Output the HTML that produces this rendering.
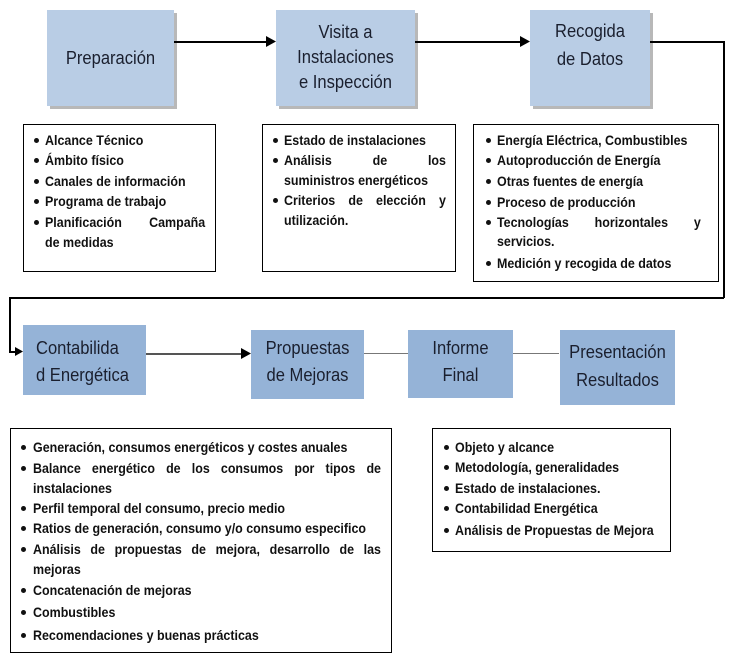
<!DOCTYPE html>
<html><head><meta charset="utf-8"><style>
body{margin:0;width:731px;height:661px;background:#fff;position:relative;overflow:hidden;font-family:"Liberation Sans",sans-serif;color:#111}
.b{position:absolute;box-sizing:border-box}
.top{background:#b9cde5;box-shadow:3px 3px 0 #b8b8b8}
.low{background:#95b3d7}
.t{position:absolute;left:-20px;right:-20px;text-align:center;font-size:18px;line-height:24px;color:#1a1f2e;transform:scaleX(0.92)}
.tb{position:absolute;border:1px solid #000;background:#fff;box-sizing:border-box}
.l{position:absolute;font-size:14px;font-weight:bold;line-height:18px;white-space:nowrap;transform:scaleX(0.89);transform-origin:0 0}
.j{text-align:justify;text-align-last:justify;white-space:normal}
.d{position:absolute;width:5px;height:5px;border-radius:50%;background:#111}
.ln{position:absolute;background:#000}
</style></head><body>
<div class="b top" style="left:47px;top:10px;width:127px;height:96px"><div class="t" style="top:36px">Preparación</div></div>
<div class="b top" style="left:276px;top:10px;width:139px;height:96px"><div class="t" style="top:10px;line-height:25px">Visita a<br>Instalaciones<br>e Inspección</div></div>
<div class="b top" style="left:530px;top:10px;width:120px;height:96px"><div class="t" style="top:7px;line-height:28px">Recogida<br>de Datos</div></div>
<div class="ln" style="left:174px;top:41px;width:94px;height:1.5px"></div>
<svg class="b" style="left:266px;top:36px" width="11" height="11"><polygon points="0,0 10,5.5 0,11" fill="#000"/></svg>
<div class="ln" style="left:415px;top:41px;width:107px;height:1.5px"></div>
<svg class="b" style="left:520px;top:36px" width="11" height="11"><polygon points="0,0 10,5.5 0,11" fill="#000"/></svg>
<div class="ln" style="left:650px;top:41px;width:74px;height:1.5px"></div>
<div class="ln" style="left:723px;top:41px;width:1.5px;height:257px"></div>
<div class="ln" style="left:9px;top:297px;width:715px;height:1.5px"></div>
<div class="ln" style="left:9px;top:297px;width:1.5px;height:55px"></div>
<div class="ln" style="left:9px;top:351px;width:8px;height:1.5px"></div>
<svg class="b" style="left:15px;top:347px" width="9" height="9"><polygon points="0,0 8,4.5 0,9" fill="#000"/></svg>

<div class="tb" style="left:23px;top:124px;width:193px;height:148px"></div>
<div class="d" style="left:34px;top:138px"></div><div class="l" style="left:45px;top:131px">Alcance Técnico</div>
<div class="d" style="left:34px;top:158px"></div><div class="l" style="left:45px;top:151px">Ámbito físico</div>
<div class="d" style="left:34px;top:179px"></div><div class="l" style="left:45px;top:172px">Canales de información</div>
<div class="d" style="left:34px;top:199px"></div><div class="l" style="left:45px;top:192px">Programa de trabajo</div>
<div class="d" style="left:34px;top:220px"></div><div class="l j" style="left:45px;top:213px;width:180px">Planificación Campaña</div>
<div class="l" style="left:45px;top:233px">de medidas</div>

<div class="tb" style="left:262px;top:124px;width:194px;height:148px"></div>
<div class="d" style="left:273px;top:138px"></div><div class="l" style="left:284px;top:131px">Estado de instalaciones</div>
<div class="d" style="left:273px;top:158px"></div><div class="l j" style="left:284px;top:151px;width:182px">Análisis de los</div>
<div class="l" style="left:284px;top:171px">suministros energéticos</div>
<div class="d" style="left:273px;top:198px"></div><div class="l j" style="left:284px;top:191px;width:182px">Criterios de elección y</div>
<div class="l" style="left:284px;top:211px">utilización.</div>

<div class="tb" style="left:473px;top:124px;width:246px;height:158px"></div>
<div class="d" style="left:486px;top:138px"></div><div class="l" style="left:497px;top:131px">Energía Eléctrica, Combustibles</div>
<div class="d" style="left:486px;top:158px"></div><div class="l" style="left:497px;top:151px">Autoproducción de Energía</div>
<div class="d" style="left:486px;top:179px"></div><div class="l" style="left:497px;top:172px">Otras fuentes de energía</div>
<div class="d" style="left:486px;top:200px"></div><div class="l" style="left:497px;top:193px">Proceso de producción</div>
<div class="d" style="left:486px;top:220px"></div><div class="l j" style="left:497px;top:213px;width:229px">Tecnologías horizontales y</div>
<div class="l" style="left:497px;top:232px">servicios.</div>
<div class="d" style="left:486px;top:261px"></div><div class="l" style="left:497px;top:254px">Medición y recogida de datos</div>

<div class="b low" style="left:23px;top:325px;width:123px;height:70px"><div class="t" style="top:10px;line-height:27px;text-align:left;left:13px;right:-30px;transform-origin:0 0">Contabilida<br>d Energética</div></div>
<div class="b low" style="left:251px;top:330px;width:113px;height:69px"><div class="t" style="top:5px;line-height:27px">Propuestas<br>de Mejoras</div></div>
<div class="b low" style="left:408px;top:330px;width:105px;height:68px"><div class="t" style="top:5px;line-height:27px">Informe<br>Final</div></div>
<div class="b low" style="left:560px;top:330px;width:115px;height:75px"><div class="t" style="top:8px;line-height:28px">Presentación<br>Resultados</div></div>
<div class="ln" style="left:146px;top:353px;width:97px;height:1.5px;background:#555"></div>
<svg class="b" style="left:241px;top:348px" width="11" height="11"><polygon points="0,0 10,5.5 0,11" fill="#000"/></svg>
<div class="ln" style="left:364px;top:353px;width:44px;height:1px;background:#777"></div>
<div class="ln" style="left:513px;top:353px;width:46px;height:1px;background:#777"></div>

<div class="tb" style="left:10px;top:428px;width:382px;height:225px"></div>
<div class="d" style="left:21px;top:445px"></div><div class="l" style="left:33px;top:438px">Generación, consumos energéticos y costes anuales</div>
<div class="d" style="left:21px;top:466px"></div><div class="l j" style="left:33px;top:459px;width:391px">Balance energético de los consumos por tipos de</div>
<div class="l" style="left:33px;top:479px">instalaciones</div>
<div class="d" style="left:21px;top:506px"></div><div class="l" style="left:33px;top:499px">Perfil temporal del consumo, precio medio</div>
<div class="d" style="left:21px;top:526px"></div><div class="l" style="left:33px;top:519px">Ratios de generación, consumo y/o consumo especifico</div>
<div class="d" style="left:21px;top:547px"></div><div class="l j" style="left:33px;top:540px;width:391px">Análisis de propuestas de mejora, desarrollo de las</div>
<div class="l" style="left:33px;top:560px">mejoras</div>
<div class="d" style="left:21px;top:588px"></div><div class="l" style="left:33px;top:581px">Concatenación de mejoras</div>
<div class="d" style="left:21px;top:610px"></div><div class="l" style="left:33px;top:603px">Combustibles</div>
<div class="d" style="left:21px;top:633px"></div><div class="l" style="left:33px;top:626px">Recomendaciones y buenas prácticas</div>

<div class="tb" style="left:432px;top:428px;width:239px;height:124px"></div>
<div class="d" style="left:444px;top:445px"></div><div class="l" style="left:455px;top:438px">Objeto y alcance</div>
<div class="d" style="left:444px;top:465px"></div><div class="l" style="left:455px;top:458px">Metodología, generalidades</div>
<div class="d" style="left:444px;top:486px"></div><div class="l" style="left:455px;top:479px">Estado de instalaciones.</div>
<div class="d" style="left:444px;top:506px"></div><div class="l" style="left:455px;top:499px">Contabilidad Energética</div>
<div class="d" style="left:444px;top:528px"></div><div class="l" style="left:455px;top:521px">Análisis de Propuestas de Mejora</div>
</body></html>
